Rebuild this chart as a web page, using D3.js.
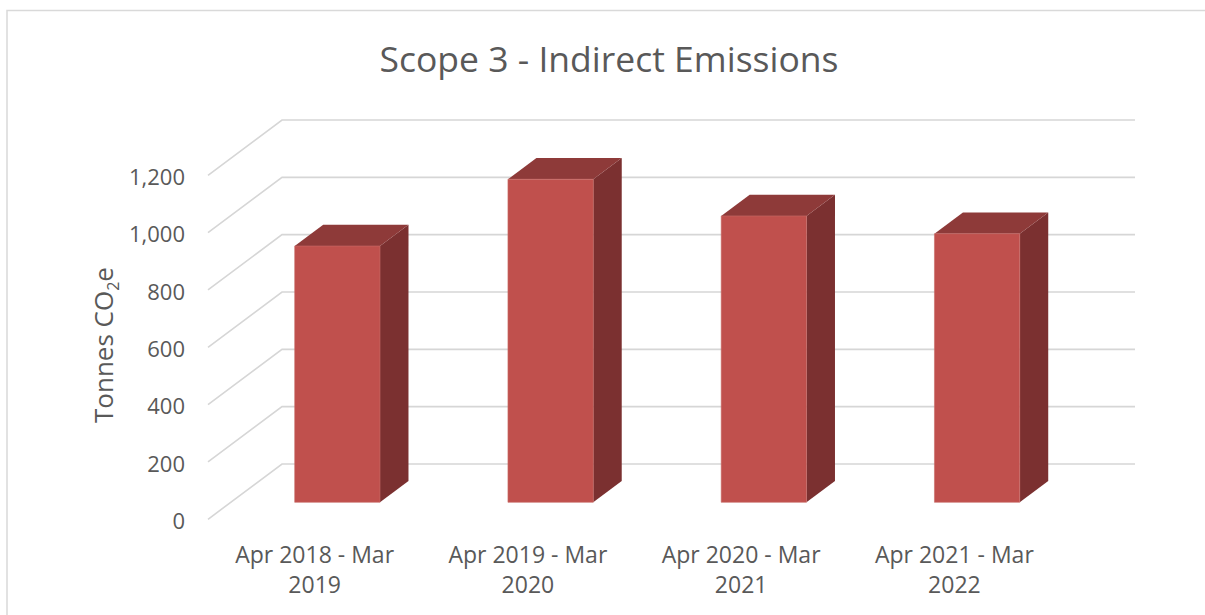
<!DOCTYPE html>
<html>
<head>
<meta charset="utf-8">
<script src="https://cdn.jsdelivr.net/npm/d3@7"></script>
<style>
  body { margin: 0; background: #fff; }
  svg { display: block; font-family: "Open Sans", "Noto Sans", sans-serif; }
</style>
</head>
<body>
<div id="chart-area"></div>
<script>
const categories = ['Apr 2018 - Mar 2019', 'Apr 2019 - Mar 2020', 'Apr 2020 - Mar 2021', 'Apr 2021 - Mar 2022'];
const emissions = [894, 1127, 999, 937];
const tickValues = [0, 200, 400, 600, 800, 1000, 1200];

const width = 1205;
const height = 615;

// oblique 3d: depth t goes 0 (front) .. 1 (back wall)
const depthX = 74;
const depthY = 55.3;
const barFront = 0.307;
const barBack = 0.692;

let svg = d3.select('#chart-area').append('svg').attr('width', width).attr('height', height);

// chart border
svg.append('rect')
    .attr('x', 7).attr('y', 10.5)
    .attr('width', 1400).attr('height', 800)
    .attr('fill', 'none')
    .attr('stroke', '#d9d9d9')
    .attr('stroke-width', 1.5);

let x = d3.scaleBand()
    .domain(categories)
    .range([208, 1061])
    .paddingInner(0.6)
    .paddingOuter(0.3);

// front plane value scale
let y = d3.scaleLinear()
    .domain([0, 1200])
    .range([519.3, 175.3]);

const pt = (px, v, t) => [px + t * depthX, y(v) - t * depthY];

// grid: side wall diagonals + back wall lines
let grid = svg.append('g');
tickValues.forEach((v) => {
    let a = pt(208, v, 0), b = pt(208, v, 1), c = pt(1061, v, 1);
    grid.append('path')
        .attr('d', 'M' + a + 'L' + b + 'L' + c)
        .attr('fill', 'none')
        .attr('stroke', '#d6d6d6')
        .attr('stroke-width', 1.6);
});

// y tick labels
let yAxis = d3.axisLeft(y)
    .tickValues(tickValues)
    .tickSize(0)
    .tickPadding(23)
    .tickFormat(d3.format(','));

let yg = svg.append('g').attr('transform', 'translate(208,0)').call(yAxis);
yg.select('.domain').remove();
yg.selectAll('text')
    .attr('fill', '#595959')
    .attr('dy', '0.42em')
    .style('font-size', '22px')
    .style('font-family', '"Open Sans", "Noto Sans", sans-serif');

// bars
let bars = svg.selectAll('g.bar').data(categories.map((c, i) => ({ name: c, value: emissions[i] })))
    .enter().append('g').attr('class', 'bar');

const poly = (pts) => 'M' + pts.join('L') + 'Z';

bars.each(function(d) {
    let g = d3.select(this);
    let x0 = x(d.name), x1 = x0 + x.bandwidth();
    // right side face
    g.append('path')
        .attr('d', poly([pt(x1, 0, barFront), pt(x1, 0, barBack), pt(x1, d.value, barBack), pt(x1, d.value, barFront)]))
        .attr('fill', '#7b3030');
    // top face
    g.append('path')
        .attr('d', poly([pt(x0, d.value, barFront), pt(x0, d.value, barBack), pt(x1, d.value, barBack), pt(x1, d.value, barFront)]))
        .attr('fill', '#8e3a39');
    // front face
    g.append('path')
        .attr('d', poly([pt(x0, 0, barFront), pt(x1, 0, barFront), pt(x1, d.value, barFront), pt(x0, d.value, barFront)]))
        .attr('fill', '#c0504d')
        .attr('stroke', '#c96b68')
        .attr('stroke-width', 0.6);
});

// category labels (two lines)
let labels = svg.selectAll('text.cat').data(categories)
    .enter().append('text')
    .attr('class', 'cat')
    .attr('text-anchor', 'middle')
    .attr('fill', '#595959')
    .style('font-size', '23px')
    .attr('transform', (d) => 'translate(' + (x(d) + x.bandwidth() / 2) + ',563)');

labels.each(function(d) {
    let cut = d.lastIndexOf(' ');
    let t = d3.select(this);
    t.append('tspan').attr('x', 0).attr('y', 0).text(d.slice(0, cut));
    t.append('tspan').attr('x', 0).attr('y', 30).text(d.slice(cut + 1));
});

// axis title
let yt = svg.append('text')
    .attr('transform', 'translate(113,345) rotate(-90)')
    .attr('text-anchor', 'middle')
    .attr('fill', '#595959')
    .style('font-size', '26px');
yt.append('tspan').text('Tonnes CO');
yt.append('tspan').attr('dy', 6).style('font-size', '16px').text('2');
yt.append('tspan').attr('dy', -6).text('e');

// title
svg.append('text')
    .attr('x', 609)
    .attr('y', 72)
    .attr('text-anchor', 'middle')
    .attr('fill', '#595959')
    .style('font-size', '35.5px')
    .text('Scope 3 - Indirect Emissions');
</script>
</body>
</html>
